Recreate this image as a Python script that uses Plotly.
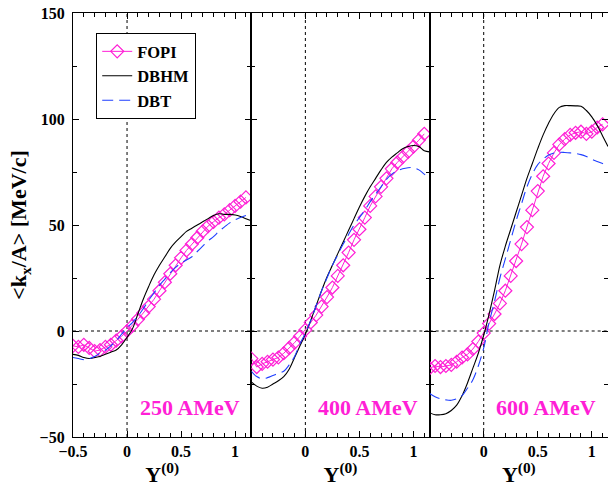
import plotly.graph_objects as go
from plotly.subplots import make_subplots

# Rapidity grids
y_fopi = [round(-0.5 + 0.05 * i, 2) for i in range(33)]      # -0.50 ... 1.10
y_model = [round(-0.5 + 0.05 * i, 2) for i in range(34)]     # -0.50 ... 1.15

# 250 AMeV
fopi_250 = [-7, -7.5, -6.5, -8, -9.5, -9, -7.5, -6.5, -4.5, -2.5, 0, 2.5, 5.5, 8.5, 11.5, 15,
            19, 23, 27, 31, 34.5, 38, 41, 44, 47, 49.5, 51.5, 53.5, 55, 57, 59, 61, 63]
dbhm_250 = [-11, -11.5, -12.5, -13, -12.5, -12, -11, -10, -9, -6.5, -3, 1, 8, 15, 21, 26.5,
            31, 35, 39, 42, 44.5, 47, 48.5, 50, 51.5, 53, 54.5, 55.3, 55, 55, 54.7, 54, 53, 52]
dbt_250 = [-12.5, -13, -13.5, -13, -12, -10.5, -9, -7, -4.5, -1.5, 1.5, 4, 7, 10.5, 14.5, 18,
           21.5, 24.5, 27.5, 30, 32, 33.5, 35, 37.5, 40, 42.5, 44.5, 47, 49, 51, 52.5, 53.5, 54.5, 55]

# 400 AMeV
fopi_400 = [-13, -17, -15.5, -14.5, -13.5, -12.5, -10.5, -8, -5.5, -2.5, 0.5, 4, 7.5, 11.5, 16,
            20.5, 26, 31, 37, 43, 48, 53.5, 59, 63.5, 68, 72, 76.5, 79.5, 82, 84.5, 87, 90, 93]
dbhm_400 = [-24, -26, -27, -26.5, -25, -23.5, -21.5, -18, -12.5, -7, -1.5, 5, 12, 19, 25.5, 31,
            36.5, 42, 47.5, 53, 58.5, 63.5, 68, 72, 76, 79.5, 82, 84, 86, 87, 87.5, 87, 85, 84.5]
dbt_400 = [-19, -21.5, -22.5, -22, -21, -20, -19, -16, -12, -6, -1, 5, 12, 19, 25, 31, 36, 41,
           45.5, 50, 53.5, 57, 61, 64.5, 68, 71.5, 74, 75.5, 76.5, 77, 77, 76, 74, 72]

# 600 AMeV
fopi_600 = [-17.5, -16.5, -17, -16.5, -16, -14.5, -12.5, -11, -8.5, -5, -1, 3.5, 8, 13, 19, 26,
            33, 41, 49, 57, 66, 73, 79, 84, 88, 90.5, 92.5, 93.5, 94, 93, 94, 96, 97.5]
dbhm_600 = [-38.5, -39.5, -39.5, -39, -37.5, -35, -30.5, -24.5, -17.5, -10.5, -2, 8, 19, 31, 40,
            48, 56, 64, 72, 79, 86, 92.5, 98, 102.5, 105.5, 106.3, 106.3, 106.2, 106, 104, 101,
            97, 92, 87]
dbt_600 = [-29.5, -31, -32, -32.5, -32.7, -32, -30.5, -27, -23, -16.5, -8, 4, 14, 25, 34, 43, 52,
           60, 68, 74, 78.5, 81, 83, 84, 84.3, 84.2, 84, 83.7, 83.2, 82.3, 81, 80, 79, 78]

energies = ["250 AMeV", "400 AMeV", "600 AMeV"]
fopi = [fopi_250, fopi_400, fopi_600]
dbhm = [dbhm_250, dbhm_400, dbhm_600]
dbt = [dbt_250, dbt_400, dbt_600]

MAGENTA = "#ff1fd6"
BLUE = "#1f3fff"
FONT = "Liberation Serif"


def bold(text):
    return f"<b>{text}</b>"


fig = make_subplots(rows=1, cols=3, shared_yaxes=True, horizontal_spacing=0)

for i in range(3):
    col = i + 1
    show = i == 0
    fig.add_trace(go.Scatter(
        x=y_fopi, y=fopi[i], mode="lines+markers", name=bold("FOPI"),
        line=dict(color=MAGENTA, width=1),
        marker=dict(symbol="diamond-open", size=10, color=MAGENTA, line=dict(width=1.2)),
        showlegend=show, legendrank=1), row=1, col=col)
    fig.add_trace(go.Scatter(
        x=y_model, y=dbhm[i], mode="lines", name=bold("DBHM"), line_shape="spline",
        line=dict(color="black", width=1.1),
        showlegend=show, legendrank=2), row=1, col=col)
    fig.add_trace(go.Scatter(
        x=y_model, y=dbt[i], mode="lines", name=bold("DBT"), line_shape="spline",
        line=dict(color=BLUE, width=1.1, dash="11px,6px"),
        showlegend=show, legendrank=3), row=1, col=col)

    xa = "x" if i == 0 else f"x{col}"
    ya = "y" if i == 0 else f"y{col}"
    # dotted zero lines
    fig.add_shape(type="line", xref=xa, yref=ya, x0=0, x1=0, y0=-50, y1=150,
                  line=dict(color="black", width=1, dash="dot"), layer="below")
    fig.add_shape(type="line", xref=xa, yref=ya, x0=-0.5, x1=1.15, y0=0, y1=0,
                  line=dict(color="black", width=1, dash="dot"), layer="below")
    fig.add_annotation(xref=xa, yref=ya, x=1.06, y=-36, text=bold(energies[i]),
                       showarrow=False, xanchor="right", yanchor="middle",
                       font=dict(family=FONT, size=22, color=MAGENTA))

    if i == 0:
        tv, tt = [-0.5, 0, 0.5, 1], ["\u22120.5", "0", "0.5", "1"]
    else:
        tv, tt = [0, 0.5, 1], ["0", "0.5", "1"]
    fig.update_xaxes(
        row=1, col=col, range=[-0.5, 1.15], tickvals=tv, ticktext=[bold(t) for t in tt],
        ticks="inside", ticklen=6, tickwidth=1, tickcolor="black",
        minor=dict(tickmode="linear", tick0=0, dtick=0.1, ticks="inside", ticklen=4,
                   tickcolor="black", tickwidth=1),
        showline=True, linecolor="black", linewidth=1.3, mirror="allticks",
        showgrid=False, zeroline=False,
        tickfont=dict(family=FONT, size=16, color="black"),
        title=dict(text=bold("Y<sup>(0)</sup>"), standoff=2,
                   font=dict(family=FONT, size=22, color="black")))

yt = [-50, 0, 50, 100, 150]
fig.update_yaxes(
    range=[-50, 150], tickvals=yt, ticktext=[bold(f"{v}".replace("-", "\u2212")) for v in yt],
    ticks="inside", ticklen=6, tickwidth=1, tickcolor="black",
    minor=dict(tickmode="linear", tick0=0, dtick=25, ticks="inside", ticklen=4,
               tickcolor="black", tickwidth=1),
    showline=True, linecolor="black", linewidth=1.3, mirror="allticks",
    showgrid=False, zeroline=False, ticklabelstandoff=4,
    tickfont=dict(family=FONT, size=16, color="black"))
fig.update_yaxes(row=1, col=1,
                 title=dict(text=bold("&lt;k<sub>x</sub>/A&gt; [MeV/c]"), standoff=6,
                            font=dict(family=FONT, size=22, color="black")))

fig.update_layout(
    width=608, height=487,
    margin=dict(l=73, r=0, t=13, b=50),
    plot_bgcolor="white", paper_bgcolor="white",
    legend=dict(x=0.043, y=0.953, xanchor="left", yanchor="top",
                bgcolor="white", bordercolor="black", borderwidth=1.2,
                font=dict(family=FONT, size=16.5, color="black"),
                tracegroupgap=0, itemwidth=30),
)

fig.write_html("out.html")
